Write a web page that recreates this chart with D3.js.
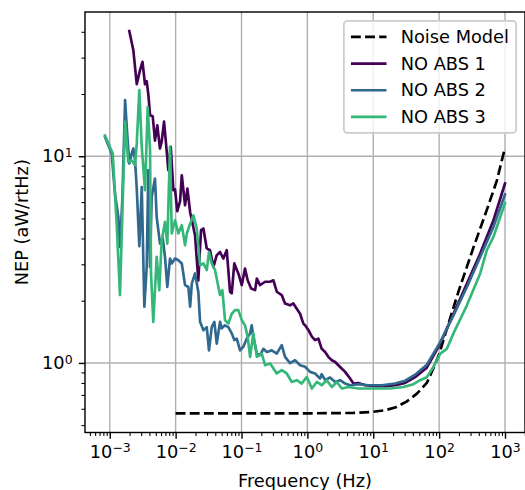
<!DOCTYPE html>
<html>
<head>
<meta charset="utf-8">
<script src="https://cdn.jsdelivr.net/npm/d3@7"></script>
<style>
  body { margin: 0; background: #fff; }
  svg { display: block; font-family: "DejaVu Sans", sans-serif; }
</style>
</head>
<body>
<div id="chart"></div>
<script>
// values (Hz, aW/rtHz)
let noiseFreq = [0.01, 1, 5, 10, 15, 22, 32, 46, 65, 85, 100, 130, 200, 330, 530, 750, 1000];
let noiseNep = [0.57, 0.57, 0.573, 0.58, 0.59, 0.61, 0.65, 0.71, 0.8, 0.97, 1.1, 1.45, 2.25, 3.6, 5.5, 7.6, 11.0];

let abs1Freq = [1.98e-3, 2.28e-3, 2.57e-3, 2.88e-3, 3.14e-3, 3.43e-3, 3.64e-3, 3.85e-3, 4.09e-3, 4.49e-3,
  4.86e-3, 5.27e-3, 5.79e-3, 6.15e-3, 6.67e-3, 7.15e-3, 7.75e-3, 8.43e-3, 9.23e-3, 9.80e-3,
  1.06e-2, 1.17e-2, 1.24e-2, 1.39e-2, 1.51e-2, 1.66e-2, 1.97e-2, 2.21e-2, 2.43e-2, 2.64e-2,
  2.97e-2, 3.33e-2, 3.74e-2, 4.21e-2, 4.72e-2, 5.30e-2, 5.97e-2, 6.70e-2, 7.11e-2, 7.78e-2,
  8.95e-2, 0.101, 0.113, 0.124, 0.140, 0.161, 0.171, 0.191, 0.228, 0.272,
  0.305, 0.343, 0.408, 0.458, 0.546, 0.612, 0.690, 0.775, 0.869, 0.923,
  1.04, 1.17, 1.31, 1.47, 1.65, 1.86, 2.08, 2.35, 2.64, 3.14,
  3.74, 4.45, 5.00, 5.95, 7.52, 10.7, 15.1, 21.5, 30.5, 43.2,
  65.0, 104, 165, 264, 420, 668, 1000];
let abs1Nep = [40.3, 32.6, 22.3, 26.1, 28.6, 22.3, 23.1, 19.95, 15.8, 15.6,
  11.9, 14.1, 10.9, 11.8, 14.7, 11.5, 8.56, 11.1, 6.85, 6.92,
  5.42, 6.06, 8.09, 5.79, 6.98, 5.36, 4.15, 2.51, 4.39, 4.47,
  3.58, 3.51, 2.91, 3.32, 3.44, 3.20, 3.51, 2.21, 2.17, 3.03,
  2.71, 2.38, 2.86, 2.51, 2.29, 2.25, 2.56, 2.38, 2.47, 2.47,
  2.51, 2.21, 2.13, 1.94, 1.90, 1.94, 1.83, 1.73, 1.55, 1.52,
  1.44, 1.34, 1.29, 1.31, 1.17, 1.13, 1.07, 1.03, 1.01, 0.956,
  0.905, 0.840, 0.795, 0.800, 0.780, 0.772, 0.772, 0.780, 0.800, 0.853,
  0.948, 1.24, 1.73, 2.42, 3.38, 4.90, 7.38];

let abs2Freq = [8.47e-4, 1.07e-3, 1.20e-3, 1.35e-3, 1.43e-3, 1.55e-3, 1.71e-3, 1.81e-3, 1.98e-3, 2.15e-3,
  2.28e-3, 2.42e-3, 2.57e-3, 2.81e-3, 3.06e-3, 3.35e-3, 3.64e-3, 3.85e-3, 4.09e-3, 4.33e-3,
  4.86e-3, 5.16e-3, 5.79e-3, 6.37e-3, 6.90e-3, 7.48e-3, 8.22e-3, 8.73e-3, 9.80e-3, 1.10e-2,
  1.24e-2, 1.39e-2, 1.56e-2, 1.66e-2, 1.76e-2, 1.97e-2, 2.21e-2, 2.35e-2, 2.64e-2, 2.97e-2,
  3.21e-2, 3.53e-2, 3.87e-2, 4.21e-2, 4.72e-2, 5.01e-2, 5.62e-2, 6.31e-2, 7.11e-2, 7.78e-2,
  8.47e-2, 9.51e-2, 0.107, 0.120, 0.135, 0.143, 0.151, 0.171, 0.191, 0.215,
  0.242, 0.288, 0.343, 0.408, 0.458, 0.546, 0.650, 0.775, 0.923, 1.10,
  1.31, 1.56, 1.65, 1.86, 2.21, 2.64, 3.14, 3.74, 4.45, 5.95,
  8.43, 13.5, 21.5, 30.5, 43.2, 65.0, 104, 165, 264, 420,
  668, 1000];
let abs2Nep = [12.4, 10.3, 6.60, 5.08, 3.64, 6.12, 18.7, 13.9, 9.22, 10.3,
  10.9, 9.56, 6.98, 3.67, 7.10, 1.87, 2.91, 8.56, 2.91, 6.35,
  7.80, 5.08, 3.78, 4.00, 3.26, 2.33, 3.20, 3.03, 3.20, 3.14,
  3.03, 2.38, 2.33, 1.87, 2.42, 2.71, 2.21, 1.58, 1.44, 1.49,
  1.15, 1.49, 1.58, 1.24, 1.58, 1.47, 1.52, 1.49, 1.39, 1.29,
  1.31, 1.15, 1.20, 1.31, 1.39, 1.52, 1.34, 1.11, 1.09, 1.17,
  1.13, 1.15, 1.11, 1.22, 1.07, 0.997, 1.03, 0.975, 0.958, 0.905,
  0.889, 0.840, 0.882, 0.825, 0.850, 0.809, 0.825, 0.795, 0.780, 0.789,
  0.780, 0.780, 0.795, 0.820, 0.877, 0.980, 1.26, 1.70, 2.33, 3.26,
  4.55, 6.53];

let abs3Freq = [8.47e-4, 1.11e-3, 1.28e-3, 1.43e-3, 1.71e-3, 1.91e-3, 2.15e-3, 2.42e-3, 2.57e-3, 2.81e-3,
  3.06e-3, 3.43e-3, 3.77e-3, 4.09e-3, 4.23e-3, 4.58e-3, 5.16e-3, 5.65e-3, 6.15e-3, 6.90e-3,
  7.48e-3, 8.22e-3, 8.73e-3, 9.80e-3, 1.10e-2, 1.24e-2, 1.39e-2, 1.48e-2, 1.66e-2, 1.86e-2,
  2.09e-2, 2.35e-2, 2.64e-2, 2.97e-2, 3.21e-2, 3.53e-2, 3.97e-2, 4.72e-2, 5.12e-2, 5.62e-2,
  6.31e-2, 7.11e-2, 7.98e-2, 8.95e-2, 0.101, 0.113, 0.124, 0.135, 0.151, 0.171,
  0.203, 0.228, 0.272, 0.343, 0.408, 0.486, 0.580, 0.690, 0.822, 0.979,
  1.17, 1.39, 1.65, 1.97, 2.35, 2.80, 3.33, 4.20, 5.95, 10.0,
  18.0, 28.7, 40.7, 51.4, 65.0, 81.9, 104, 131, 165, 264,
  420, 530, 668, 1000];
let abs3Nep = [12.6, 10.3, 4.55, 2.13, 14.7, 9.39, 9.56, 9.05, 11.5, 20.9,
  11.1, 6.85, 17.3, 10.7, 2.71, 1.58, 3.26, 2.25, 3.92, 4.81,
  3.78, 11.1, 4.23, 4.90, 4.23, 4.64, 3.71, 4.23, 4.72, 5.18,
  4.47, 2.97, 3.03, 2.81, 3.44, 3.03, 2.81, 2.13, 2.25, 1.61,
  1.55, 1.73, 1.80, 1.80, 1.61, 1.52, 1.34, 1.07, 1.39, 1.07,
  1.11, 0.975, 0.993, 0.889, 0.922, 0.889, 0.809, 0.825, 0.795, 0.856,
  0.752, 0.809, 0.780, 0.825, 0.765, 0.809, 0.752, 0.765, 0.752, 0.752,
  0.752, 0.765, 0.789, 0.825, 0.853, 0.956, 1.11, 1.17, 1.39, 1.90,
  2.71, 3.51, 4.07, 5.94];

let seriesNames = ["Noise Model", "NO ABS 1", "NO ABS 2", "NO ABS 3"];
let seriesColors = ["#000000", "#440154", "#31688e", "#35b779"];

let xTicks = [1e-3, 1e-2, 1e-1, 1e0, 1e1, 1e2, 1e3];
let yTicks = [1e0, 1e1];

// sizes scaled like a matplotlib figure at ~128 dpi
let pt = 128 / 72;
let fontSize = 10 * pt;
let lineWidth = 1.5 * pt;

let svgWidth = 525;
let svgHeight = 490;

let margin = { top: 12, right: 0, bottom: 57.5, left: 85 };
let chartWidth = svgWidth - margin.left - margin.right;
let chartHeight = svgHeight - margin.top - margin.bottom;

let series = seriesNames.map((name, i) => {
  let f = [noiseFreq, abs1Freq, abs2Freq, abs3Freq][i];
  let v = [noiseNep, abs1Nep, abs2Nep, abs3Nep][i];
  return {
    name: name,
    color: seriesColors[i],
    dashed: i === 0,
    values: f.map((d, j) => ({ f: d, v: v[j] }))
  };
});

// matplotlib style 5% margins in log space
function logPad(ext) {
  let a = Math.log10(ext[0]);
  let b = Math.log10(ext[1]);
  let p = (b - a) * 0.05;
  return [Math.pow(10, a - p), Math.pow(10, b + p)];
}

let allPoints = series.flatMap(s => s.values);

let x = d3.scaleLog()
  .domain(logPad(d3.extent(allPoints, d => d.f)))
  .range([0, chartWidth]);

let y = d3.scaleLog()
  .domain(logPad(d3.extent(allPoints, d => d.v)))
  .range([chartHeight, 0]);

function minorTicks(scale) {
  let dom = scale.domain();
  let out = [];
  for (let e = Math.floor(Math.log10(dom[0])); e <= Math.ceil(Math.log10(dom[1])); e++) {
    for (let m = 2; m <= 9; m++) {
      let t = m * Math.pow(10, e);
      if (t >= dom[0] && t <= dom[1]) out.push(t);
    }
  }
  return out;
}

function superLabel(sel) {
  sel.each(function(d) {
    let e = Math.round(Math.log10(d));
    let t = d3.select(this).text(null);
    t.append("tspan").text("10");
    t.append("tspan")
      .attr("dy", "-0.42em")
      .attr("font-size", "70%")
      .text(e < 0 ? "\u2212" + (-e) : e);
  });
}

let svg = d3.select("#chart")
  .append("svg")
  .attr("width", svgWidth)
  .attr("height", svgHeight);

let plot = svg.append("g")
  .attr("transform", "translate(" + margin.left + ", " + margin.top + ")");

// grid
plot.append("g")
  .selectAll("line")
  .data(xTicks)
  .enter()
  .append("line")
    .attr("x1", d => x(d))
    .attr("x2", d => x(d))
    .attr("y1", 0)
    .attr("y2", chartHeight)
    .attr("stroke", "#b0b0b0")
    .attr("stroke-width", 0.8 * pt);

plot.append("g")
  .selectAll("line")
  .data(yTicks)
  .enter()
  .append("line")
    .attr("x1", 0)
    .attr("x2", chartWidth)
    .attr("y1", d => y(d))
    .attr("y2", d => y(d))
    .attr("stroke", "#b0b0b0")
    .attr("stroke-width", 0.8 * pt);

// lines
plot.append("clipPath")
  .attr("id", "clip")
  .append("rect")
  .attr("width", chartWidth)
  .attr("height", chartHeight);

let line = d3.line()
  .x(d => x(d.f))
  .y(d => y(d.v));

plot.append("g")
  .attr("clip-path", "url(#clip)")
  .selectAll("path")
  .data(series)
  .enter()
  .append("path")
    .attr("d", d => line(d.values))
    .attr("fill", "none")
    .attr("stroke", d => d.color)
    .attr("stroke-width", lineWidth)
    .attr("stroke-linejoin", "round")
    .attr("stroke-linecap", d => d.dashed ? "butt" : "square")
    .attr("stroke-dasharray", d => d.dashed ? (3.7 * lineWidth) + " " + (1.6 * lineWidth) : null);

// axes
let xAxis = plot.append("g")
  .attr("transform", "translate(0, " + chartHeight + ")")
  .call(d3.axisBottom(x).tickValues(xTicks).tickSize(3.5 * pt).tickPadding(3.5 * pt));

let xMinor = plot.append("g")
  .attr("transform", "translate(0, " + chartHeight + ")")
  .call(d3.axisBottom(x).tickValues(minorTicks(x)).tickSize(2 * pt).tickFormat(""));

let yAxis = plot.append("g")
  .call(d3.axisLeft(y).tickValues(yTicks).tickSize(3.5 * pt).tickPadding(3.5 * pt));

let yMinor = plot.append("g")
  .call(d3.axisLeft(y).tickValues(minorTicks(y)).tickSize(2 * pt).tickFormat(""));

[xAxis, xMinor, yAxis, yMinor].forEach(g => {
  g.select(".domain").remove();
  g.attr("font-family", null).attr("font-size", fontSize);
  g.selectAll(".tick line").attr("stroke", "#000");
});
xAxis.selectAll(".tick line").attr("stroke-width", 0.8 * pt);
yAxis.selectAll(".tick line").attr("stroke-width", 0.8 * pt);
xMinor.selectAll(".tick line").attr("stroke-width", 0.6 * pt);
yMinor.selectAll(".tick line").attr("stroke-width", 0.6 * pt);

xAxis.selectAll(".tick text").attr("fill", "#000").call(superLabel);
yAxis.selectAll(".tick text").attr("fill", "#000").call(superLabel);

// spines
plot.append("rect")
  .attr("width", chartWidth)
  .attr("height", chartHeight)
  .attr("fill", "none")
  .attr("stroke", "#000")
  .attr("stroke-width", 0.8 * pt);

// axis labels
svg.append("text")
  .attr("x", margin.left + chartWidth / 2)
  .attr("y", 481)
  .attr("dy", "0.35em")
  .attr("text-anchor", "middle")
  .attr("font-size", fontSize)
  .text("Frequency (Hz)");

svg.append("text")
  .attr("transform", "translate(22, " + (margin.top + chartHeight / 2) + ") rotate(-90)")
  .attr("dy", "0.35em")
  .attr("text-anchor", "middle")
  .attr("font-size", fontSize)
  .text("NEP (aW/rtHz)");

// legend, upper right
let legend = plot.append("g");

let legendFrame = legend.append("rect");

let rows = legend.selectAll("g")
  .data(series)
  .enter()
  .append("g");

rows.append("line")
  .attr("x1", 0)
  .attr("x2", 2 * fontSize)
  .attr("stroke", d => d.color)
  .attr("stroke-width", lineWidth)
  .attr("stroke-dasharray", d => d.dashed ? (3.7 * lineWidth) + " " + (1.6 * lineWidth) : null);

rows.append("text")
  .attr("x", 2.8 * fontSize)
  .attr("dy", "0.35em")
  .attr("font-size", fontSize)
  .text(d => d.name);

let textWidth = d3.max(rows.selectAll("text").nodes(), n => n.getComputedTextLength());
let legendWidth = 3.6 * fontSize + textWidth;
let legendHeight = 6.3 * fontSize;
let legendX = chartWidth - 0.5 * fontSize - legendWidth;
let legendY = 0.5 * fontSize;

legendFrame
  .attr("x", legendX)
  .attr("y", legendY)
  .attr("width", legendWidth)
  .attr("height", legendHeight)
  .attr("rx", 0.2 * fontSize)
  .attr("fill", "#fff")
  .attr("fill-opacity", 0.8)
  .attr("stroke", "#cccccc")
  .attr("stroke-width", pt);

rows.attr("transform", (d, i) => "translate(" + (legendX + 0.4 * fontSize) + ", " +
  (legendY + 0.9 * fontSize + i * 1.5 * fontSize) + ")");
</script>
</body>
</html>
